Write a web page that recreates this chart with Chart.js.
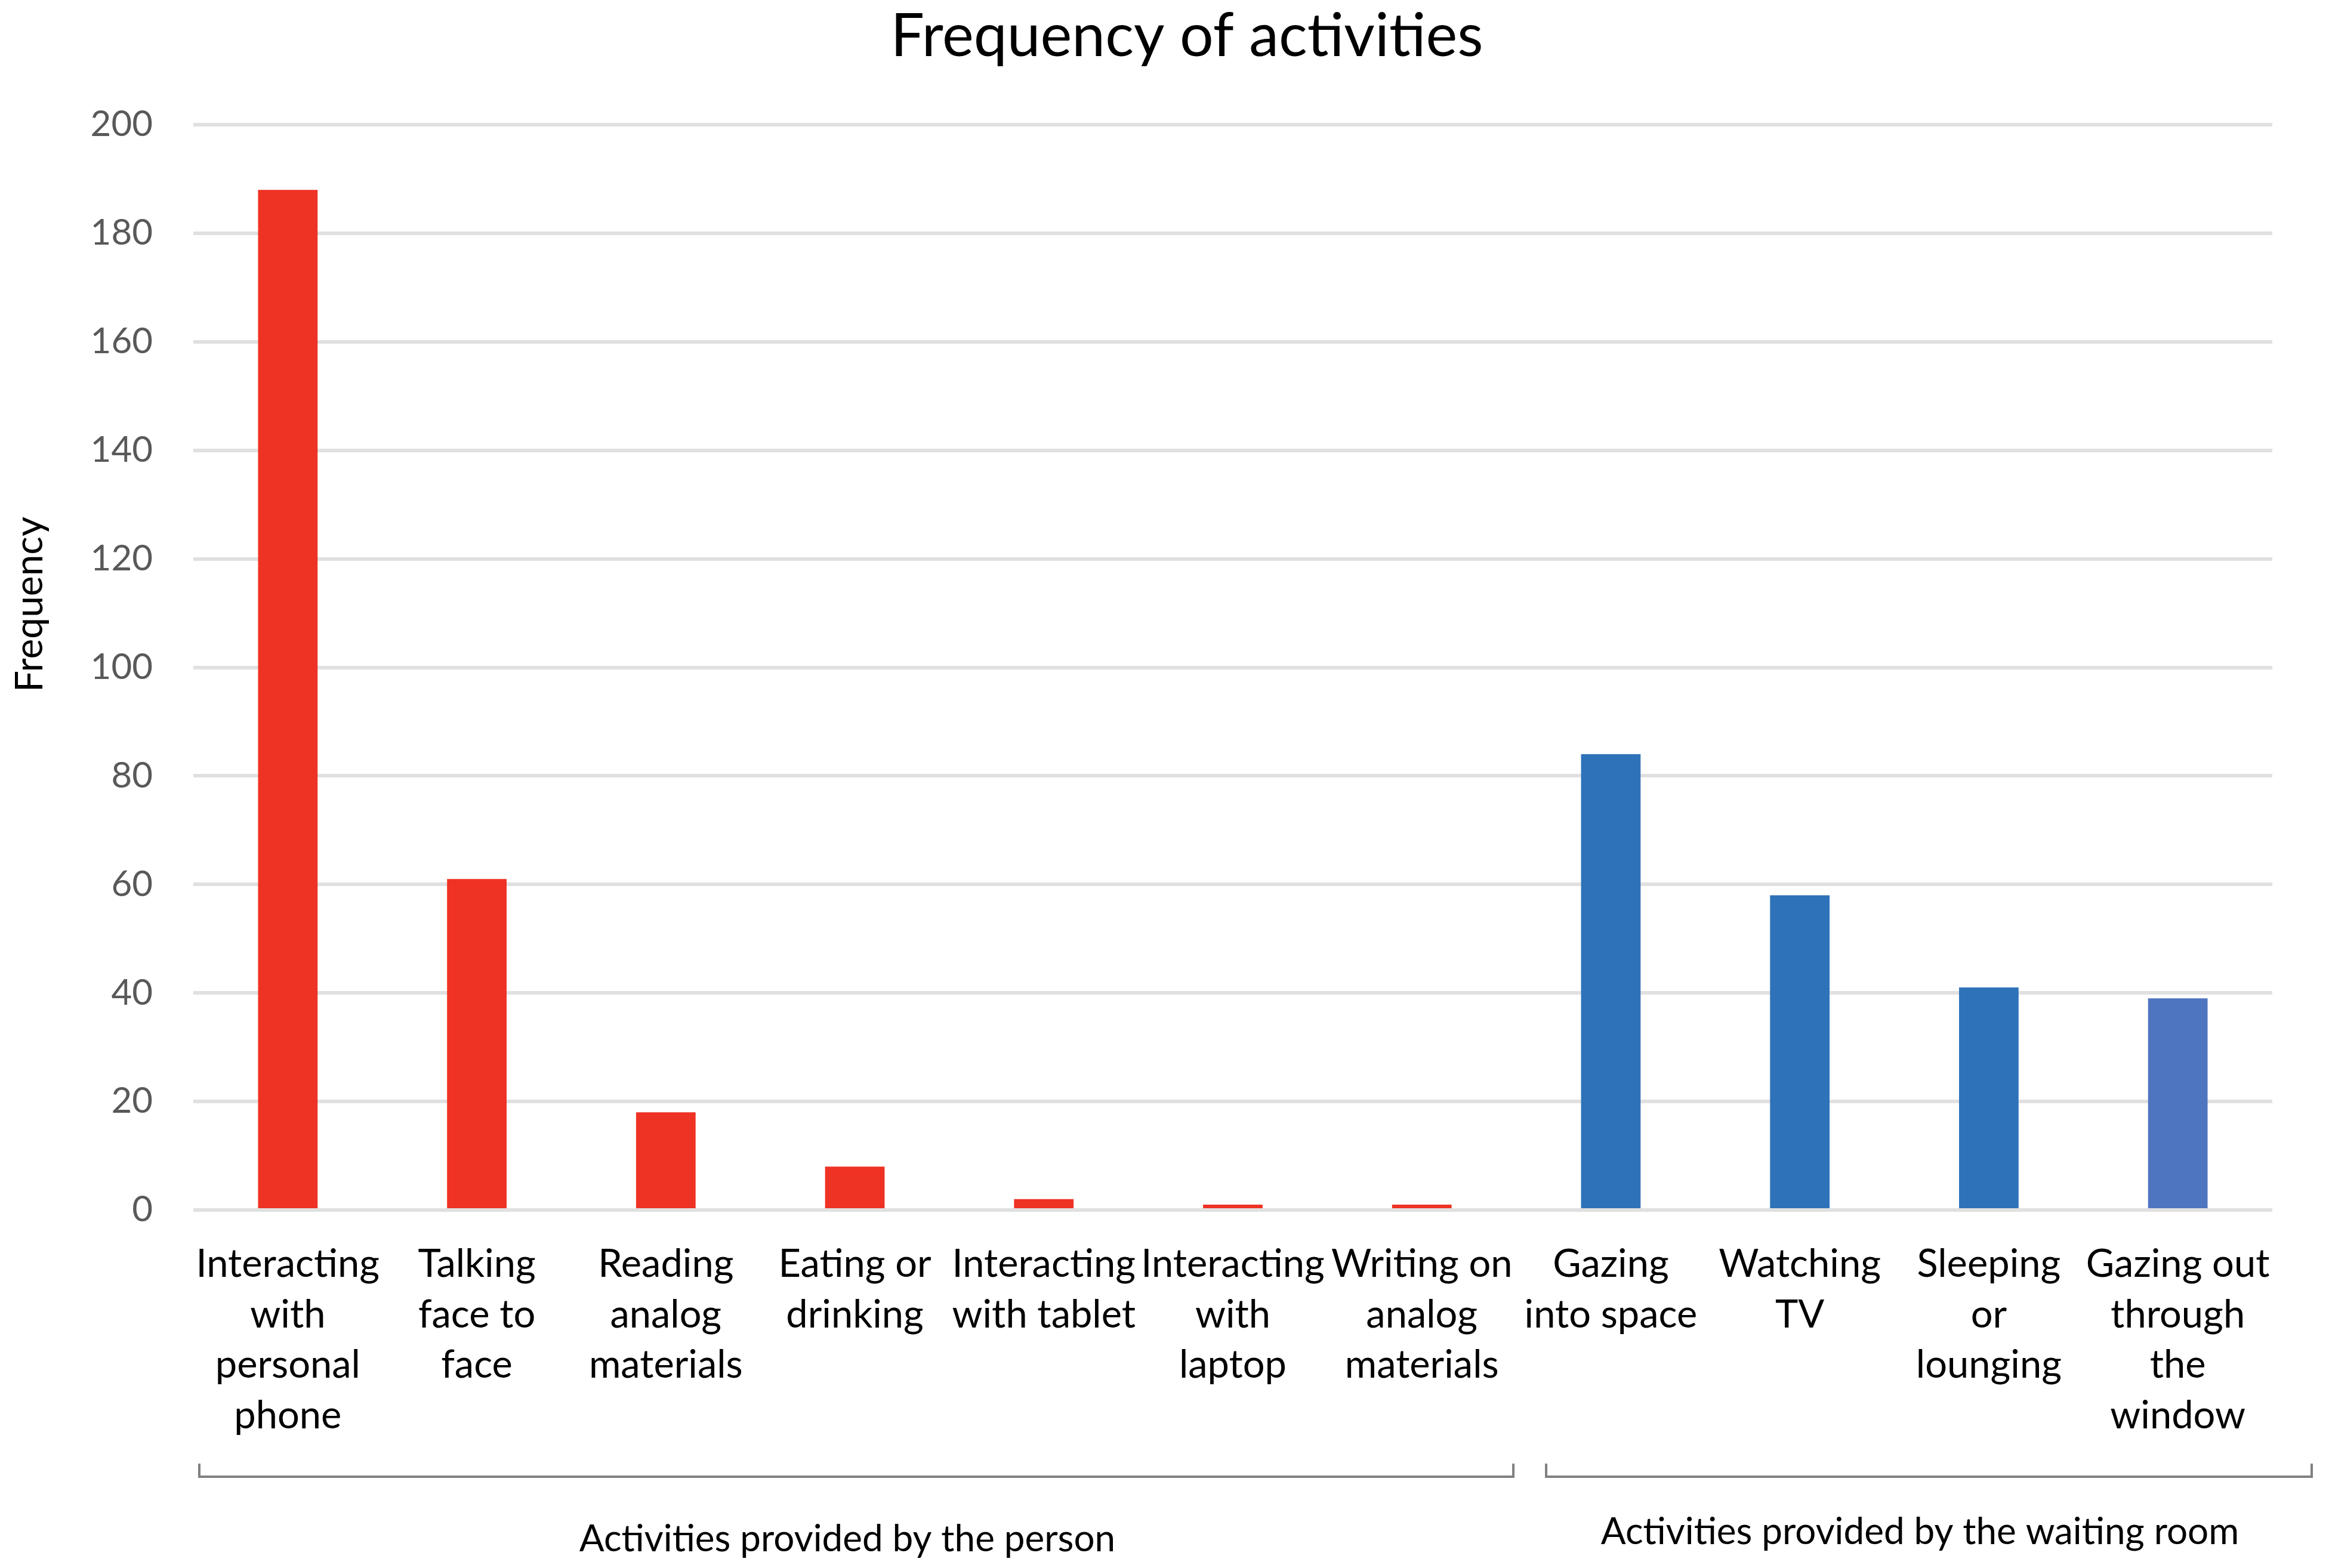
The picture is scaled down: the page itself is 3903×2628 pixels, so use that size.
<!DOCTYPE html>
<html>
<head>
<meta charset="utf-8">
<title>Frequency of activities</title>
<script src="https://cdn.jsdelivr.net/npm/chart.js@4.4.1/dist/chart.umd.min.js"></script>
<style>
  html, body { margin: 0; padding: 0; background: #fff; }
  canvas { display: block; }
</style>
</head>
<body>
<canvas id="myChart" width="3903" height="2628"></canvas>
<script>
"use strict";

// data
const categories = [
    ['Interacting', 'with', 'personal', 'phone'],
    ['Talking', 'face to', 'face'],
    ['Reading', 'analog', 'materials'],
    ['Eating or', 'drinking'],
    ['Interacting', 'with tablet'],
    ['Interacting', 'with', 'laptop'],
    ['Writing on', 'analog', 'materials'],
    ['Gazing', 'into space'],
    ['Watching', 'TV'],
    ['Sleeping', 'or', 'lounging'],
    ['Gazing out', 'through', 'the', 'window']
];
const frequencies = [188, 61, 18, 8, 2, 1, 1, 84, 58, 41, 39];
const yTicks = [0, 20, 40, 60, 80, 100, 120, 140, 160, 180, 200];

// which categories each bracket covers
const groupNames = ['Activities provided by the person', 'Activities provided by the waiting room'];
const groupFirst = [0, 7];
const groupLast = [6, 10];

const chartTitle = 'Frequency of activities';
const yTitle = 'Frequency';

const FONT = 'Lato, "Open Sans", sans-serif';

function barColor(i) {
    if (i <= groupLast[0]) return '#EE3224';
    if (i === categories.length - 1) return '#4E75C0';
    return '#2E72B9';
}

// title, rotated y title, brackets + group labels under the axis
const annotations = {
    id: 'annotations',
    afterDraw(chart) {
        const ctx = chart.ctx;
        const x = chart.scales.x;
        const half = (x.getPixelForValue(1) - x.getPixelForValue(0)) / 2;
        const lineY = 2475, tickTop = 2453;
        const pads = [[10, -5], [50, 66]];
        const textY = [2580, 2568];

        ctx.save();
        ctx.fillStyle = '#000';
        ctx.textAlign = 'center';
        ctx.textBaseline = 'middle';

        ctx.font = '100px ' + FONT;
        ctx.fillText(chartTitle, 1989, 62);

        ctx.strokeStyle = '#808080';
        ctx.lineWidth = 4;
        ctx.font = '62px ' + FONT;
        groupNames.forEach((name, g) => {
            const x0 = x.getPixelForValue(groupFirst[g]) - half + pads[g][0];
            const x1 = x.getPixelForValue(groupLast[g]) + half + pads[g][1];
            ctx.beginPath();
            ctx.moveTo(x0, tickTop);
            ctx.lineTo(x0, lineY);
            ctx.lineTo(x1, lineY);
            ctx.lineTo(x1, tickTop);
            ctx.stroke();
            ctx.fillText(name, (x0 + x1) / 2 - 15, textY[g]);
        });

        ctx.translate(50, 1013);
        ctx.rotate(-Math.PI / 2);
        ctx.font = '64px ' + FONT;
        ctx.fillText(yTitle, 0, 0);
        ctx.restore();
    }
};

new Chart(document.getElementById('myChart').getContext('2d'), {
    type: 'bar',
    data: {
        labels: categories,
        datasets: [{
            label: 'Frequency',
            data: frequencies,
            backgroundColor: categories.map((c, i) => barColor(i)),
            barPercentage: 0.315,
            categoryPercentage: 1
        }]
    },
    options: {
        responsive: false,
        devicePixelRatio: 1,
        animation: false,
        layout: { padding: { left: 0, right: 95, top: 209, bottom: 0 } },
        plugins: {
            legend: { display: false },
            tooltip: { enabled: false },
            title: { display: false }
        },
        scales: {
            x: {
                grid: { display: false },
                border: { display: false },
                ticks: {
                    color: '#000',
                    font: { family: FONT, size: 65, lineHeight: 1.3 },
                    padding: 41,
                    maxRotation: 0,
                    minRotation: 0,
                    autoSkip: false
                },
                afterFit(scale) { scale.height = 600; }
            },
            y: {
                min: 0,
                max: 200,
                grid: { color: '#E0E0E0', lineWidth: 6, drawTicks: false },
                border: { display: false },
                ticks: {
                    color: '#595959',
                    font: { family: FONT, size: 60 },
                    padding: 68
                },
                afterBuildTicks(scale) { scale.ticks = yTicks.map(v => ({ value: v })); },
                afterFit(scale) { scale.width = 324; }
            }
        }
    },
    plugins: [annotations]
});
</script>
</body>
</html>
